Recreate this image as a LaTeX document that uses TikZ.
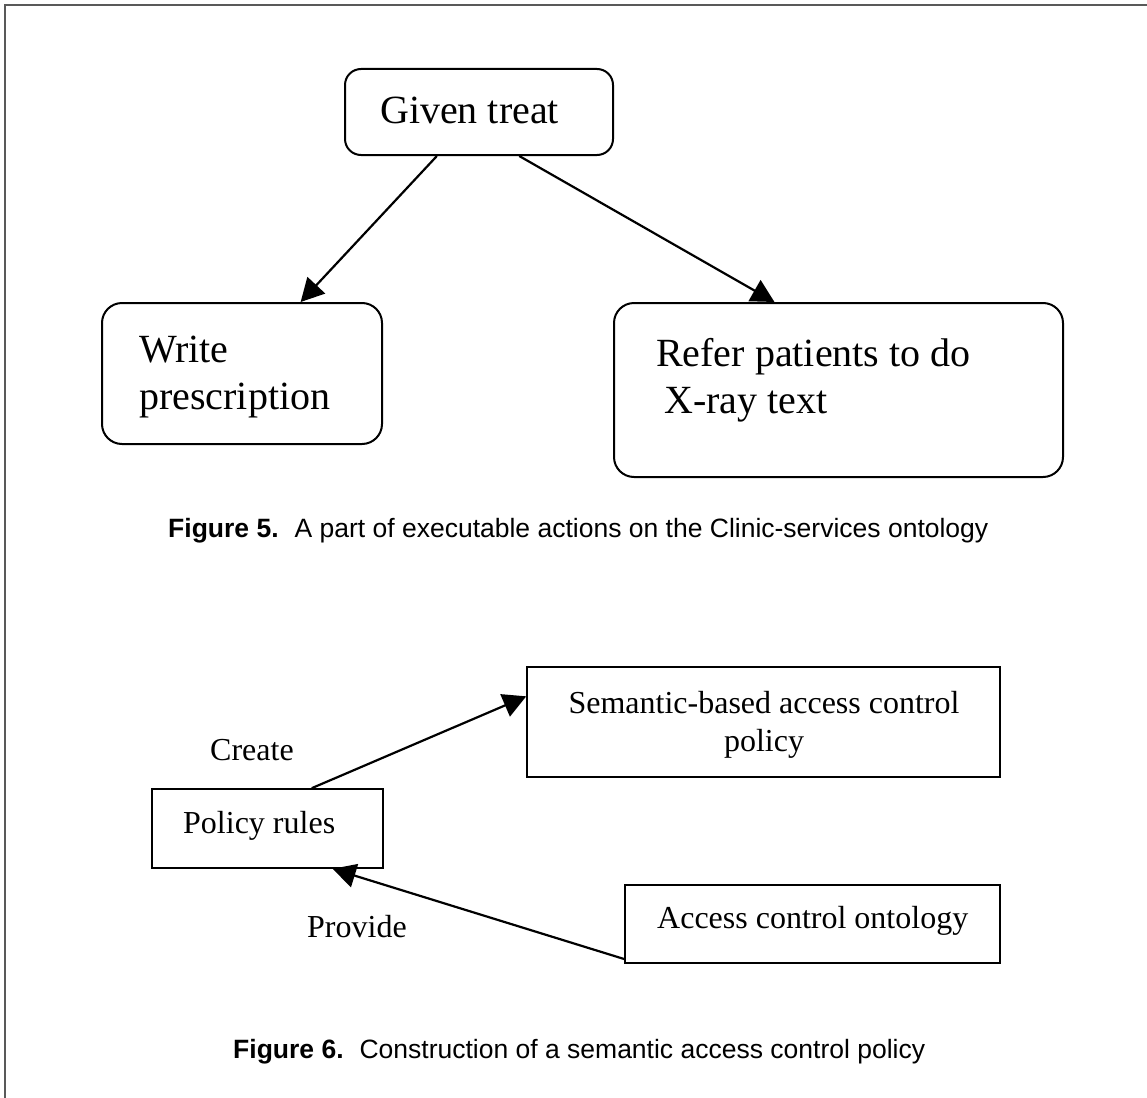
\documentclass[tikz,border=0pt]{standalone}
\usepackage{fontspec}
\setmainfont{Liberation Serif}
\newfontfamily\capfont{Liberation Sans}
\usetikzlibrary{arrows.meta,calc}

\tikzset{
  frameline/.style={draw=black!65, line width=1.5pt},
  roundbox/.style={draw, line width=2pt, rounded corners=20pt, inner sep=0pt},
  plainbox/.style={draw, line width=1.6pt, inner sep=0pt},
  boxtext/.style={anchor=base west, inner sep=0pt, font=\fontsize{40}{47}\selectfont, align=left},
  smalltext/.style={anchor=base west, inner sep=0pt, font=\fontsize{32}{38}\selectfont},
  captext/.style={anchor=base west, inner sep=0pt, font=\capfont\fontsize{26.5}{30}\selectfont},
  link/.style={line width=2.2pt, -{Triangle[length=23pt,width=24pt]}},
}

\begin{document}
\begin{tikzpicture}[x=1pt,y=-1pt]
  \useasboundingbox (0,0) rectangle (1147,1097);
  % page frame (left and top edges)
  \draw[frameline] (5,1100) -- (5,5) -- (1150,5);

  % ---- Figure 5: clinic-services actions ----
  \node[roundbox, minimum width=268pt, minimum height=86pt, rounded corners=16pt] (gt) at (479,112) {};
  \node[boxtext] (gtt) at (380,123) {Given treat};

  \node[roundbox, minimum width=280pt, minimum height=141pt] (wp) at (242,373.5) {};
  % multi-line text: base anchor sits on the last line
  \node[boxtext] (wpt) at (139,409) {Write\\prescription};

  \node[roundbox, minimum width=449pt, minimum height=174pt] (rp) at (838.5,390) {};
  \node[boxtext] (rpt) at (656,413) {Refer patients to do\\\hspace*{8pt}X-ray text};

  \draw[link] ($(gt.south west)!0.344!(gt.south east)$) -- ($(wp.north west)!0.708!(wp.north east)$);
  \draw[link] ($(gt.south west)!0.649!(gt.south east)$) -- ($(rp.north west)!0.358!(rp.north east)$);

  \node[captext] (cap5) at (168,537) {\textbf{Figure 5.}\hspace{0.6em}A part of executable actions on the Clinic-services ontology};

  % ---- Figure 6: access control policy construction ----
  \node[plainbox, minimum width=473pt, minimum height=110pt] (sb) at (763.5,722) {};
  \node[smalltext, anchor=base, align=center] (sbt) at (764,751) {Semantic-based access control\\policy};

  \node[plainbox, minimum width=231pt, minimum height=79pt] (pr) at (267.5,828.5) {};
  \node[smalltext] (prt) at (183,833) {Policy rules};

  \node[plainbox, minimum width=375pt, minimum height=78pt] (ac) at (812.5,924) {};
  \node[smalltext] (act) at (657,928) {Access control ontology};

  \node[smalltext] (create) at (210,760) {Create};
  \node[smalltext] (provide) at (307,937) {Provide};

  \draw[link] ($(pr.north west)!0.69!(pr.north east)$) -- ($(sb.north west)!0.27!(sb.south west)$);
  \draw[link] ($(ac.north west)!0.94!(ac.south west)$) -- ($(pr.south west)!0.78!(pr.south east)$);

  \node[captext] (cap6) at (233,1058) {\textbf{Figure 6.}\hspace{0.6em}Construction of a semantic access control policy};
\end{tikzpicture}
\end{document}
